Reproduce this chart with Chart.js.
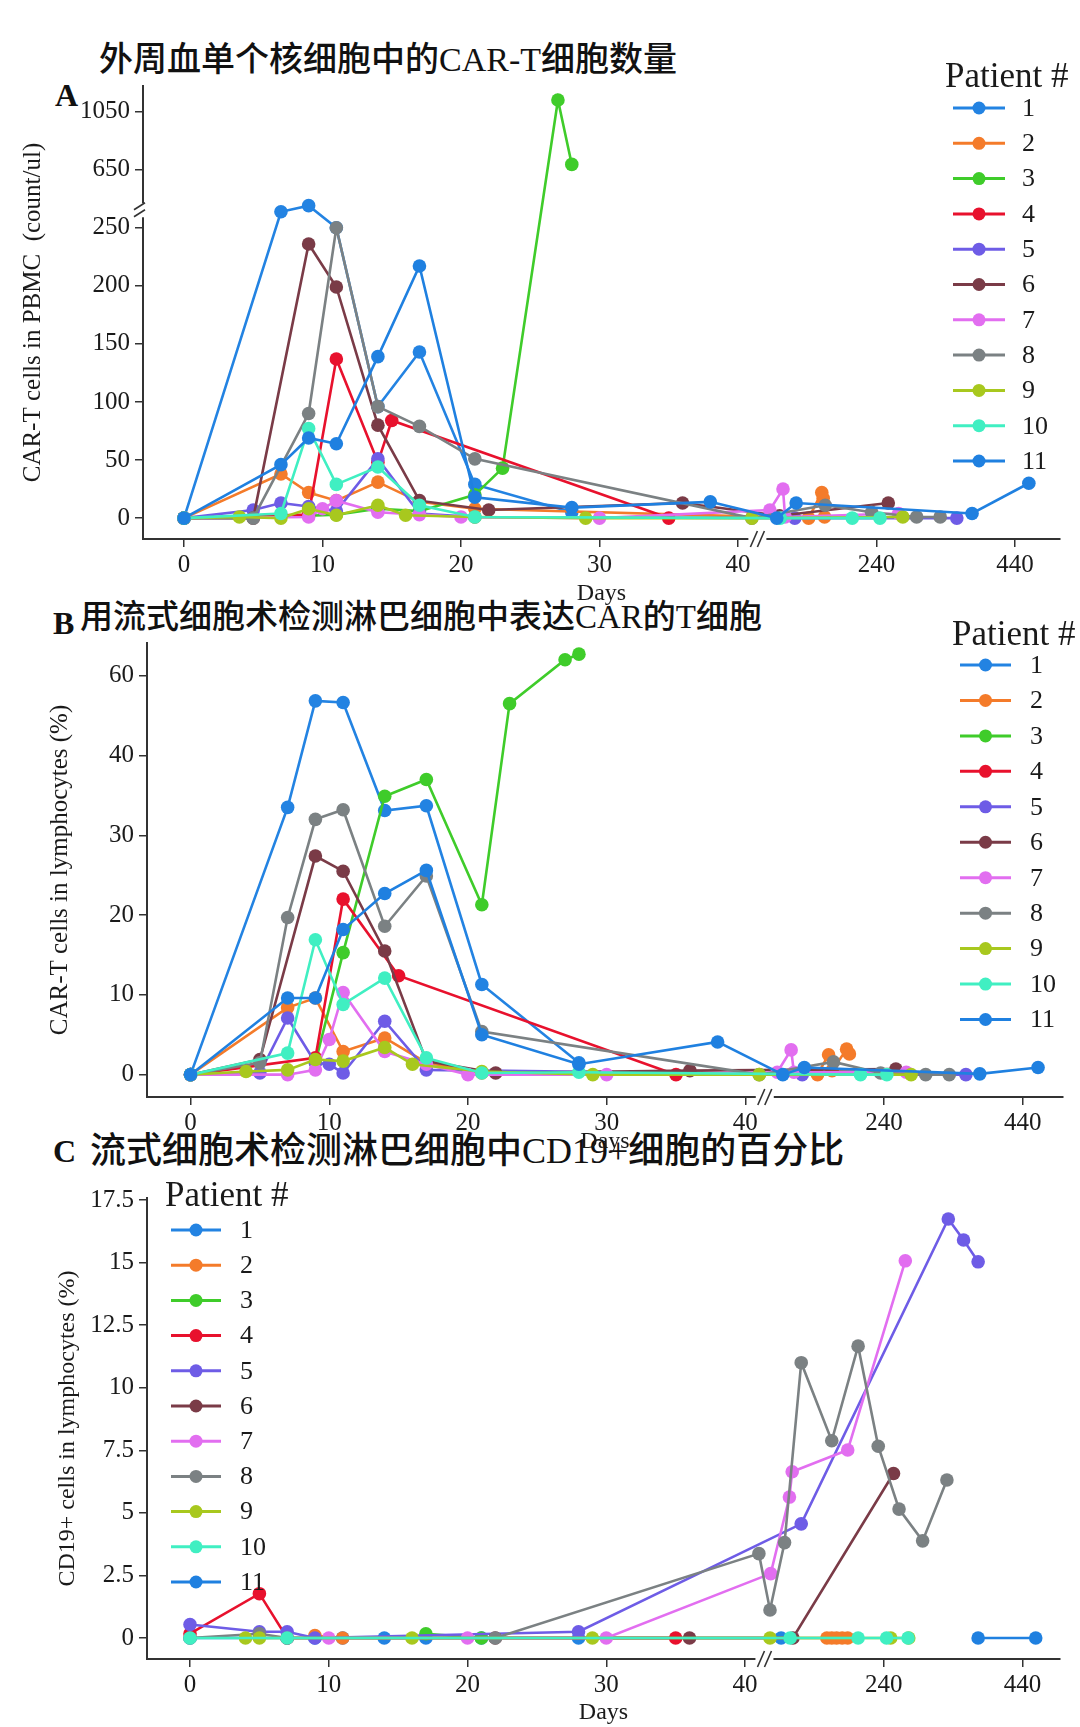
<!DOCTYPE html>
<html>
<head>
<meta charset="utf-8">
<script src="https://cdn.jsdelivr.net/npm/chart.js@4.4.0/dist/chart.umd.min.js"></script>
<style>
  body { margin: 0; background: #fff; width: 1080px; height: 1727px; position: relative; overflow: hidden; }
  canvas { position: absolute; left: 0; }
  .ttl { position: absolute; font-family: "Liberation Serif", "Noto Sans CJK SC", serif; font-weight: 500; white-space: nowrap; color: #111; line-height: 1; }
  .letter { position: absolute; font-family: "Liberation Serif", serif; font-weight: bold; font-size: 32px; line-height: 1; color: #111; }
</style>
</head>
<body>
<div class="ttl" style="left:99px; top:43px; font-size:34px;">外周血单个核细胞中的CAR-T细胞数量</div>
<div class="ttl" style="left:80px; top:601px; font-size:33px;">用流式细胞术检测淋巴细胞中表达CAR的T细胞</div>
<div class="ttl" style="left:90px; top:1133px; font-size:36px;">流式细胞术检测淋巴细胞中CD19+细胞的百分比</div>
<div class="letter" style="left:55px; top:79px;">A</div>
<div class="letter" style="left:53px; top:607px;">B</div>
<div class="letter" style="left:53px; top:1135px;">C</div>

<canvas id="chart-a" width="1080" height="620" style="top:0px;"></canvas>
<canvas id="chart-b" width="1080" height="560" style="top:600px;"></canvas>
<canvas id="chart-c" width="1080" height="597" style="top:1130px;"></canvas>

<script>
const patients = ['1', '2', '3', '4', '5', '6', '7', '8', '9', '10', '11'];
const colors = ['#2383e2', '#f47b2a', '#3fcc2a', '#e8112d', '#6e5ce6', '#7a3b47',
                '#e26ef0', '#7b8183', '#a8c81e', '#40efc2', '#1f80e0'];

const dayTicks = [0, 10, 20, 30, 40, 240, 440];
const countTicks = [0, 50, 100, 150, 200, 250, 650, 1050];
const carPctTicks = [0, 10, 20, 30, 40, 60];
const cd19Ticks = [0, 2.5, 5, 7.5, 10, 12.5, 15, 17.5];

// A: CAR-T cells in PBMC (count/ul)
const pbmcDays = [
  [0, 7, 9, 11, 14, 17, 21, 28],
  [0, 7, 9, 11, 14, 17, 21, 142, 161, 163, 165],
  [9, 11, 14, 17, 21, 23, 27, 28],
  [0, 9, 11, 14, 15, 35],
  [0, 5, 7, 9, 11, 14, 17, 21, 122, 356],
  [0, 5, 9, 11, 14, 17, 22, 36, 100, 257],
  [0, 9, 10, 11, 14, 17, 20, 30, 86, 105, 108, 272],
  [0, 5, 9, 11, 14, 17, 21, 41, 166, 233, 298, 332],
  [0, 4, 7, 9, 11, 14, 16, 21, 29, 41, 278],
  [0, 7, 9, 11, 14, 17, 21, 101, 205, 245],
  [0, 7, 9, 11, 14, 17, 21, 28, 38, 96, 124, 378, 460]
];
const pbmcCount = [
  [0, 360, 402, 250, 96, 143, 29, 5],
  [0, 38, 22, 15, 31, 14, 8, 0, 22, 17, 1],
  [2, 3, 8, 6, 20, 43, 1130, 686],
  [0, 3, 137, 48, 84, 0],
  [0, 7, 13, 10, 6, 51, 4, 1, 0, 0],
  [0, 0, 236, 199, 80, 15, 7, 13, 2, 13],
  [0, 1, 8, 15, 5, 3, 1, 0, 7, 25, 1, 4],
  [0, 0, 90, 250, 96, 79, 51, 0, 11, 5, 1, 1],
  [0, 1, 0, 8, 2.5, 11, 2.5, 1, 0, 0, 1],
  [0, 4, 77, 29, 44, 11, 1, 0, 0, 0],
  [0, 46, 69, 64, 139, 217, 18, 9, 14, 0, 13, 4, 30]
];

// B: CAR-T cells in lymphocytes (%)
const carDays = [
  [0, 7, 9, 11, 14, 17, 21, 28],
  [0, 7, 9, 11, 14, 17, 21, 144, 160, 165, 186, 190],
  [9, 11, 14, 17, 21, 23, 27, 28],
  [0, 9, 11, 15, 35],
  [0, 5, 7, 9, 10, 11, 14, 17, 122, 358],
  [0, 5, 9, 11, 14, 17, 22, 36, 257],
  [0, 7, 9, 10, 11, 14, 17, 20, 30, 86, 106, 110, 272],
  [0, 5, 7, 9, 11, 14, 17, 21, 41, 167, 235, 300, 334],
  [0, 4, 7, 9, 11, 14, 16, 21, 29, 41, 279],
  [0, 7, 9, 11, 14, 17, 21, 28, 206, 244],
  [0, 7, 9, 11, 14, 17, 21, 28, 38, 94, 125, 378, 462]
];
const carPct = [
  [0, 33.5, 53.7, 53.3, 33.1, 33.7, 11.3, 1.5],
  [0, 8.4, 9.6, 2.9, 4.6, 1.5, 0.2, 0, 2.5, 0.5, 3.2, 2.6],
  [1.5, 15.3, 34.9, 37, 21.3, 53, 64, 65.4],
  [0, 2.1, 22, 12.4, 0],
  [0, 0.2, 7.1, 1.5, 1.3, 0.2, 6.7, 0.6, 0, 0],
  [0, 1.9, 27.4, 25.5, 15.5, 1.7, 0.2, 0.5, 0.7],
  [0, 0, 0.6, 4.4, 10.3, 2.9, 1.3, 0, 0, 0.3, 3.1, 0.3, 0.3],
  [0, 1.5, 19.7, 32, 33.2, 18.6, 24.9, 5.4, 0, 1.6, 0.2, 0, 0],
  [0, 0.4, 0.6, 1.9, 1.7, 3.4, 1.3, 0.4, 0, 0, 0],
  [0, 2.7, 16.9, 8.8, 12.1, 2.1, 0.2, 0.3, 0, 0],
  [0, 9.6, 9.6, 18.2, 22.7, 25.6, 5, 1.3, 4.1, 0, 0.9, 0.1, 0.9]
];

// C: CD19+ cells in lymphocytes (%)
const cd19Days = [
  [0, 7, 9, 11, 14, 17, 21, 28, 92],
  [9, 11, 158, 165, 172, 180, 188],
  [17, 21],
  [0, 5, 7, 35],
  [0, 5, 7, 9, 28, 121, 333, 355, 376],
  [22, 36, 109, 254],
  [10, 20, 30, 77, 104, 108, 188, 271],
  [0, 5, 7, 22, 41, 76, 97, 121, 165, 203, 232, 262, 296, 331],
  [4, 5, 16, 29, 76, 250, 276],
  [0, 7, 105, 203, 244, 275],
  [376, 459]
];
const cd19Pct = [
  [0, 0, 0, 0, 0, 0, 0, 0, 0],
  [0.1, 0, 0, 0, 0, 0, 0],
  [0.17, 0],
  [0.17, 1.77, 0, 0],
  [0.54, 0.25, 0.25, 0, 0.25, 4.56, 16.74, 15.9, 15.03],
  [0, 0, 0, 6.57],
  [0, 0, 0, 2.57, 5.63, 6.64, 7.51, 15.07],
  [0, 0.17, 0, 0, 3.37, 1.12, 3.81, 11.0, 7.88, 11.66, 7.66, 5.15, 3.88, 6.31],
  [0, 0, 0, 0, 0, 0, 0],
  [0, 0, 0, 0, 0, 0],
  [0, 0]
];

// broken x axis: days up to ~41 linear, then 20 days per unit
function xPos(d) { return d <= 41.5 ? d : 50 + (d - 240) / 20; }
function yCount(v) { return v <= 250 ? v : 250 + (v - 250) / 8; }
function yCarPct(v) { return v <= 40 ? v : 40 + (v - 40) / 2; }
function yPlain(v) { return v; }

const SERIF = '"Liberation Serif", "Times New Roman", serif';
const INK = '#1a1a1a';

function breakPlugin(yBreakAt) {
  return {
    id: 'breaks',
    afterDraw(chart) {
      const ctx = chart.ctx;
      const area = chart.chartArea;
      ctx.save();
      // x axis break
      const bx = chart.scales.x.getPixelForValue(41.4);
      const by = area.bottom;
      ctx.fillStyle = '#fff';
      ctx.fillRect(bx - 9, by - 3, 18, 6);
      ctx.strokeStyle = '#333';
      ctx.lineWidth = 1.6;
      [-3.5, 3.5].forEach(o => {
        ctx.beginPath();
        ctx.moveTo(bx + o - 3.5, by + 8);
        ctx.lineTo(bx + o + 3.5, by - 8);
        ctx.stroke();
      });
      // y axis break
      if (yBreakAt != null) {
        const py = chart.scales.y.getPixelForValue(yBreakAt);
        const ax = area.left;
        ctx.fillStyle = '#fff';
        ctx.fillRect(ax - 3, py - 7, 6, 14);
        [-3.5, 3.5].forEach(o => {
          ctx.beginPath();
          ctx.moveTo(ax - 9, py + o + 3);
          ctx.lineTo(ax + 2, py + o - 4);
          ctx.stroke();
        });
      }
      ctx.restore();
    }
  };
}

function legendPlugin(lg) {
  return {
    id: 'patientLegend',
    afterDraw(chart) {
      const ctx = chart.ctx;
      ctx.save();
      ctx.textBaseline = 'middle';
      ctx.fillStyle = INK;
      ctx.font = '35px ' + SERIF;
      ctx.fillText('Patient #', lg.hx, lg.hy);
      ctx.font = '26px ' + SERIF;
      chart.data.datasets.forEach((ds, i) => {
        const y = lg.y0 + i * lg.step;
        ctx.strokeStyle = ds.borderColor;
        ctx.lineWidth = 3;
        ctx.beginPath();
        ctx.moveTo(lg.x, y);
        ctx.lineTo(lg.x + lg.len, y);
        ctx.stroke();
        ctx.fillStyle = ds.borderColor;
        ctx.beginPath();
        ctx.arc(lg.x + lg.len / 2, y, 6.5, 0, Math.PI * 2);
        ctx.fill();
        ctx.fillStyle = INK;
        ctx.fillText(ds.label, lg.tx, y + 1);
      });
      ctx.restore();
    }
  };
}

function makePanel(cfg) {
  const datasets = patients.map((p, i) => ({
    label: p,
    data: cfg.days[i].map((d, j) => ({ x: xPos(d), y: cfg.yMap(cfg.vals[i][j]) })),
    borderColor: colors[i],
    backgroundColor: colors[i],
    borderWidth: 2.6,
    pointRadius: 6.8,
    pointHoverRadius: 6.8,
    pointBorderWidth: 0,
    tension: 0,
    order: patients.length - i,
    clip: false
  }));

  const axisGrid = { display: true, drawOnChartArea: false, drawTicks: true, tickLength: 8, color: '#333', lineWidth: 1.5 };
  const axisBorder = { display: true, color: '#333', width: 2 };

  return new Chart(document.getElementById(cfg.id), {
    type: 'line',
    data: { datasets },
    options: {
      responsive: false,
      animation: false,
      events: [],
      layout: { padding: { left: 0, right: cfg.padR, top: cfg.padT, bottom: 0 } },
      plugins: { legend: { display: false }, tooltip: { enabled: false } },
      scales: {
        x: {
          type: 'linear',
          min: cfg.xMin, max: cfg.xMax,
          afterFit(s) { s.height = cfg.xH; },
          afterBuildTicks(s) { s.ticks = dayTicks.map(d => ({ value: xPos(d) })); },
          ticks: {
            callback: (v, i) => String(dayTicks[i]),
            font: { family: SERIF, size: 25 }, color: INK, padding: 3,
            maxRotation: 0, autoSkip: false
          },
          grid: axisGrid,
          border: axisBorder,
          title: { display: true, text: 'Days', font: { family: SERIF, size: 24 }, color: INK,
                   padding: { top: 0, bottom: cfg.daysPad } }
        },
        y: {
          type: 'linear',
          min: cfg.yMin, max: cfg.yMax,
          afterFit(s) { s.width = cfg.yW; },
          afterBuildTicks(s) { s.ticks = cfg.yTicks.map(v => ({ value: cfg.yMap(v) })); },
          ticks: {
            callback: (v, i) => String(cfg.yTicks[i]),
            font: { family: SERIF, size: 25 }, color: INK, padding: 5, autoSkip: false
          },
          grid: axisGrid,
          border: axisBorder,
          title: { display: true, text: cfg.yTitle, font: { family: SERIF, size: cfg.yTitleSize }, color: INK,
                   padding: { top: cfg.yTitlePad, bottom: 0 } }
        }
      }
    },
    plugins: [breakPlugin(cfg.yBreak), legendPlugin(cfg.legend)]
  });
}

makePanel({
  id: 'chart-a', days: pbmcDays, vals: pbmcCount, yMap: yCount, yTicks: countTicks,
  xMin: -2.96, xMax: 63.25, yMin: -18, yMax: 372,
  padT: 86, padR: 20, yW: 143, xH: 81, daysPad: 11.6,
  yTitle: 'CAR-T cells in PBMC  (count/ul)', yTitleSize: 25, yTitlePad: 18,
  yBreak: 265,
  legend: { hx: 945, hy: 78, x: 953, len: 52, y0: 108, step: 35.3, tx: 1022 }
});

makePanel({
  id: 'chart-b', days: carDays, vals: carPct, yMap: yCarPct, yTicks: carPctTicks,
  xMin: -3.14, xMax: 62.9, yMin: -2.8, yMax: 54.1,
  padT: 43, padR: 17, yW: 147, xH: 63, daysPad: 3.6,
  yTitle: 'CAR-T cells in lymphocytes (%)', yTitleSize: 25, yTitlePad: 45.5,
  yBreak: null,
  legend: { hx: 952, hy: 36, x: 960, len: 51, y0: 65, step: 35.45, tx: 1030 }
});

makePanel({
  id: 'chart-c', days: cd19Days, vals: cd19Pct, yMap: yPlain, yTicks: cd19Ticks,
  xMin: -3.1, xMax: 62.7, yMin: -0.84, yMax: 17.58,
  padT: 68, padR: 20, yW: 147, xH: 68, daysPad: 0,
  yTitle: 'CD19+ cells in lymphocytes (%)', yTitleSize: 24, yTitlePad: 53.6,
  yBreak: null,
  legend: { hx: 165, hy: 67, x: 171, len: 50, y0: 100, step: 35.2, tx: 240 }
});
</script>
</body>
</html>
